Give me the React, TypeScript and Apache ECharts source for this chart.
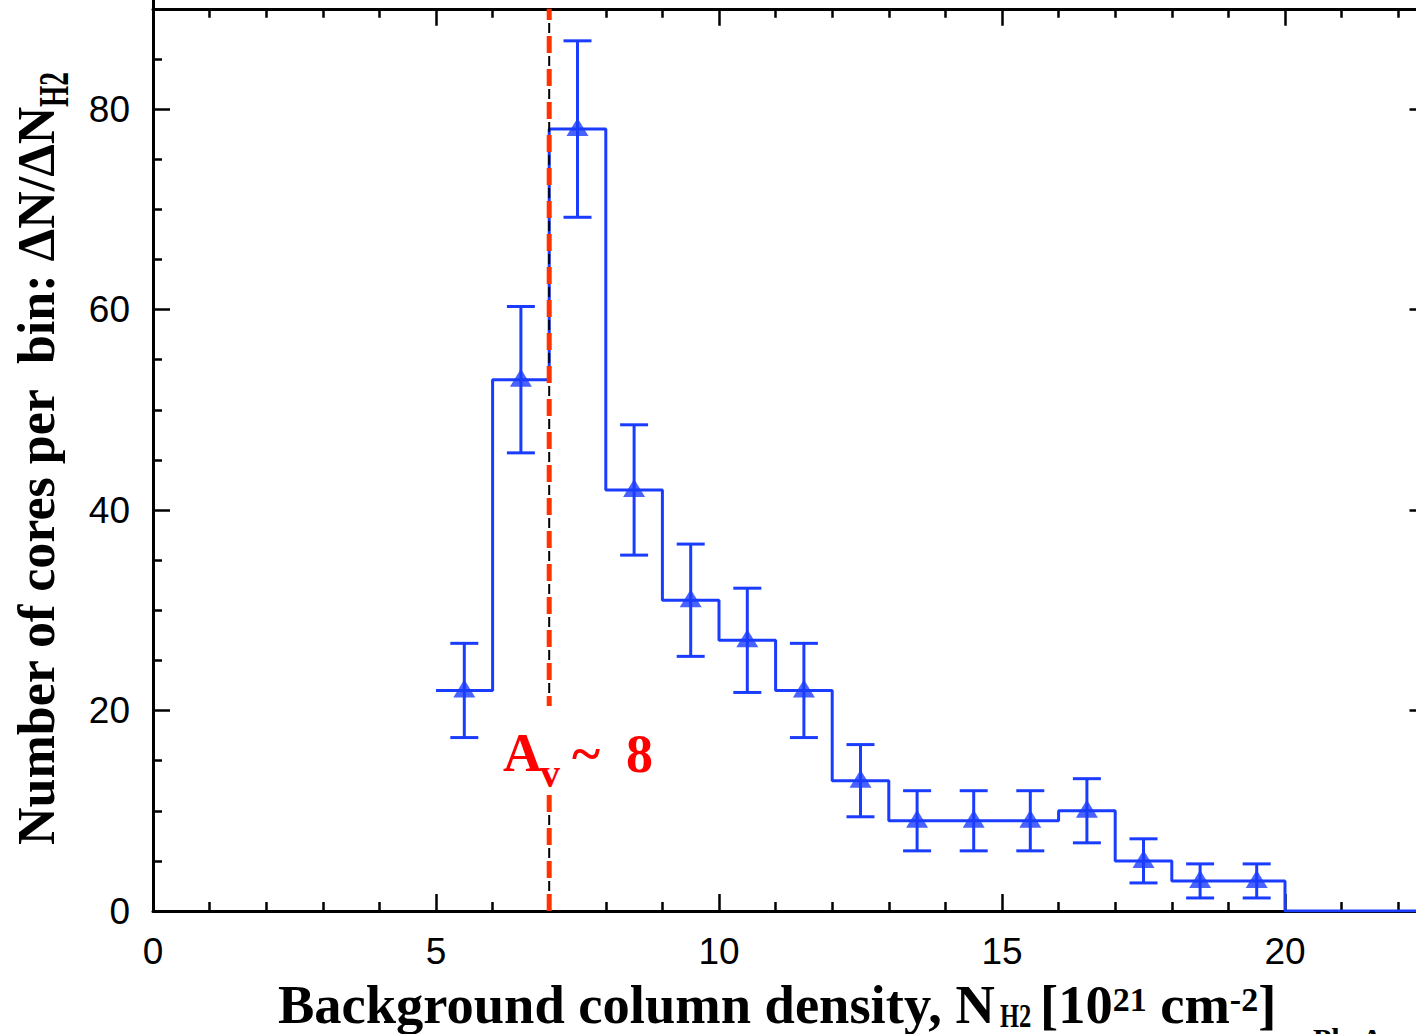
import React, { useEffect, useRef } from 'react';
import * as echarts from 'echarts';

// ---- data ----
const binLeftEdges = [5, 6, 7, 8, 9, 10, 11, 12, 13, 14, 15, 16, 17, 18, 19];
const binCenters = [5.5, 6.5, 7.5, 8.5, 9.5, 10.5, 11.5, 12.5, 13.5, 14.5, 15.5, 16.5, 17.5, 18.5, 19.5];
const counts = [22, 53, 78, 42, 31, 27, 22, 13, 9, 9, 9, 10, 5, 3, 3];
const errLow = [17.3, 45.7, 69.2, 35.5, 25.4, 21.8, 17.3, 9.4, 6.0, 6.0, 6.0, 6.8, 2.8, 1.3, 1.3];
const errHigh = [26.7, 60.3, 86.8, 48.5, 36.6, 32.2, 26.7, 16.6, 12.0, 12.0, 12.0, 13.2, 7.2, 4.7, 4.7];
const histEndEdge = 20;
const avThreshold = 7;

// axis ranges (the visible frame ends at x = 22.5 and y = 90)
const xFrameMax = 22.5;
const yFrameMax = 90;
const xScaleMax = 25;
const yScaleMax = 100;

const BLUE = '#1a3cff';
const SERIF = '"Liberation Serif", "Times New Roman", serif';
const SANS = '"Liberation Sans", Arial, sans-serif';

export default function App() {
  const ref = useRef<HTMLDivElement>(null);

  useEffect(() => {
    document.body.style.margin = '0';
    if (!ref.current) return;
    const chart = echarts.init(ref.current, undefined, { renderer: 'svg' });

    const stepData: number[][] = binLeftEdges.map((x, i) => [x, counts[i]]);
    stepData.push([histEndEdge, 0]);
    stepData.push([xScaleMax, 0]);

    const markerData = binCenters.map((x, i) => [x, counts[i]]);
    const errData = binCenters.map((x, i) => [x, errLow[i], errHigh[i]]);

    const W = 1416;
    const H = 1034;
    const x0px = 153;
    const pxPerX = 56.6;
    const y0px = 911;
    const pxPerY = 10.025;
    const rightEdgePx = x0px + xScaleMax * pxPerX;
    const topEdgePx = y0px - yScaleMax * pxPerY;
    const frameRightPx = x0px + xFrameMax * pxPerX;
    const frameTopPx = y0px - yFrameMax * pxPerY;

    const tickStyle = { color: '#000', width: 2.5 };
    const axisLineStyle = { color: '#000', width: 3 };

    const baseX = {
      type: 'value',
      min: 0,
      max: xScaleMax,
      interval: 5,
      splitLine: { show: false },
      axisLine: { show: true, onZero: false, lineStyle: axisLineStyle },
      axisTick: { show: true, inside: true, length: 17, lineStyle: tickStyle },
      minorTick: { show: true, splitNumber: 5, length: 9, lineStyle: tickStyle },
    };
    const baseY = {
      type: 'value',
      min: 0,
      max: yScaleMax,
      interval: 20,
      splitLine: { show: false },
      axisLine: { show: true, onZero: false, lineStyle: axisLineStyle },
      axisTick: { show: true, inside: true, length: 17, lineStyle: tickStyle },
      minorTick: { show: true, splitNumber: 4, length: 9, lineStyle: tickStyle },
    };

    const option: any = {
      animation: false,
      backgroundColor: '#fff',
      grid: {
        left: x0px,
        top: topEdgePx,
        right: W - rightEdgePx,
        bottom: H - y0px,
        containLabel: false,
        outerBoundsMode: 'none',
      },
      xAxis: [
        {
          ...baseX,
          position: 'bottom',
          axisLabel: {
            show: true, margin: 22, fontSize: 37, fontFamily: SANS, color: '#000',
            showMaxLabel: false,
            formatter: (v: number) => (v <= xFrameMax ? String(v) : ''),
          },
        },
        {
          ...baseX,
          position: 'top',
          offset: topEdgePx - frameTopPx,
          axisLabel: { show: false },
        },
      ],
      yAxis: [
        {
          ...baseY,
          position: 'left',
          axisLabel: {
            show: true, margin: 23, fontSize: 37, fontFamily: SANS, color: '#000',
            showMaxLabel: false,
            formatter: (v: number) => (v <= yFrameMax ? String(v) : ''),
          },
        },
        {
          ...baseY,
          position: 'right',
          offset: frameRightPx - rightEdgePx,
          axisLabel: { show: false },
        },
      ],
      series: [
        {
          type: 'line',
          name: 'histogram',
          step: 'end',
          data: stepData,
          symbol: 'none',
          lineStyle: { color: BLUE, width: 3 },
          z: 3,
        },
        {
          type: 'custom',
          name: 'errors',
          data: errData,
          encode: { x: 0, y: [1, 2] },
          z: 4,
          renderItem: (params: any, api: any) => {
            const x = api.value(0);
            const lo = api.value(1);
            const hi = api.value(2);
            const pLo = api.coord([x, lo]);
            const pHi = api.coord([x, hi]);
            const hw = 14;
            const style = { stroke: BLUE, lineWidth: 3 };
            return {
              type: 'group',
              children: [
                { type: 'line', shape: { x1: pLo[0], y1: pLo[1], x2: pHi[0], y2: pHi[1] }, style },
                { type: 'line', shape: { x1: pLo[0] - hw, y1: pLo[1], x2: pLo[0] + hw, y2: pLo[1] }, style },
                { type: 'line', shape: { x1: pHi[0] - hw, y1: pHi[1], x2: pHi[0] + hw, y2: pHi[1] }, style },
              ],
            };
          },
        },
        {
          type: 'scatter',
          name: 'markers',
          data: markerData,
          symbol: 'triangle',
          symbolSize: [22, 18],
          symbolOffset: [0, -2],
          itemStyle: { color: BLUE },
          z: 5,
        },
        {
          type: 'line',
          name: 'avBlack',
          data: [[avThreshold, 0], [avThreshold, yFrameMax]],
          symbol: 'none',
          lineStyle: { color: '#000', width: 2, type: [10, 23], dashOffset: 13 },
          z: 6,
        },
        {
          type: 'line',
          name: 'avRed',
          data: [[avThreshold, 0], [avThreshold, yFrameMax]],
          symbol: 'none',
          lineStyle: { color: '#ff3300', width: 5, type: [17, 16] },
          z: 7,
        },
      ],
      graphic: {
        elements: [
          { type: 'rect', z: 99, shape: { x: 537, y: 706, width: 24, height: 88 }, style: { fill: '#fff' } },
          {
            type: 'text', z: 100, x: 503, y: 753,
            style: { text: 'A', fontSize: 54, fontWeight: 'bold', fontFamily: SERIF, fill: '#ff0000', align: 'left', verticalAlign: 'middle' },
          },
          {
            type: 'text', z: 100, x: 540, y: 773.5,
            style: { text: 'v', fontSize: 40, fontWeight: 'bold', fontFamily: SERIF, fill: '#ff0000', align: 'left', verticalAlign: 'middle' },
          },
          {
            type: 'text', z: 100, x: 572, y: 753.5,
            style: { text: '~', fontSize: 54, fontWeight: 'bold', fontFamily: SERIF, fill: '#ff0000', align: 'left', verticalAlign: 'middle' },
          },
          {
            type: 'text', z: 100, x: 626, y: 753.5,
            style: { text: '8', fontSize: 54, fontWeight: 'bold', fontFamily: SERIF, fill: '#ff0000', align: 'left', verticalAlign: 'middle' },
          },
          // x-axis title
          {
            type: 'text', z: 100, x: 278, y: 1004.5,
            style: { text: 'Background column density, N', fontSize: 54.5, fontWeight: 'bold', fontFamily: SERIF, fill: '#000', align: 'left', verticalAlign: 'middle' },
          },
          {
            type: 'text', z: 100, x: 1000, y: 1016, scaleX: 0.72,
            style: { text: 'H2', fontSize: 34, fontWeight: 'bold', fontFamily: SERIF, fill: '#000', align: 'left', verticalAlign: 'middle' },
          },
          {
            type: 'text', z: 100, x: 1040, y: 1004.5,
            style: {
              text: '{m|[10}{s|21}{m| cm}{s|-2}{m|]}',
              fontSize: 54.5, fontWeight: 'bold', fontFamily: SERIF, fill: '#000', align: 'left', verticalAlign: 'middle',
              rich: {
                m: { fontSize: 54.5, fontWeight: 'bold', fontFamily: SERIF, fill: '#000', lineHeight: 64, verticalAlign: 'middle' },
                s: { fontSize: 34, fontWeight: 'bold', fontFamily: SERIF, fill: '#000', lineHeight: 64, verticalAlign: 'middle', padding: [0, 0, 11, 0] },
              },
            },
          },
          // y-axis title
          {
            type: 'text', z: 100, x: 36.5, y: 845, rotation: Math.PI / 2,
            style: { text: 'Number of cores per  bin: \u0394N/\u0394N', fontSize: 52, fontWeight: 'bold', fontFamily: SERIF, fill: '#000', align: 'left', verticalAlign: 'middle' },
          },
          {
            type: 'text', z: 100, x: 54, y: 107, rotation: Math.PI / 2, scaleX: 0.65,
            style: { text: 'H2', fontSize: 42, fontWeight: 'bold', fontFamily: SERIF, fill: '#000', align: 'left', verticalAlign: 'middle' },
          },
          {
            type: 'text', z: 100, x: 1313, y: 1038,
            style: { text: 'Ph. A', fontSize: 30, fontWeight: 'bold', fontFamily: SERIF, fill: '#000', align: 'left', verticalAlign: 'middle' },
          },
        ],
      },
    };

    chart.setOption(option);
    return () => chart.dispose();
  }, []);

  return <div ref={ref} style={{ width: 1416, height: 1034 }} />;
}
